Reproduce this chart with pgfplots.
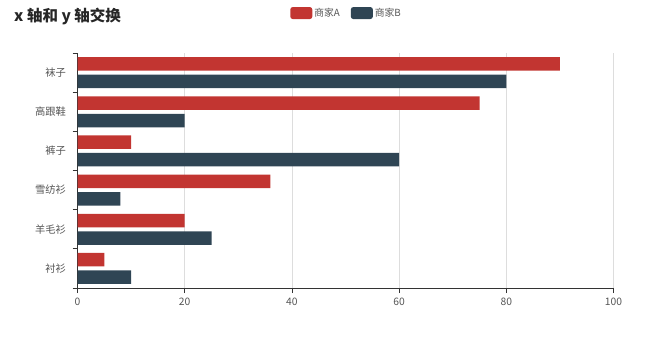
\documentclass[border=0pt]{standalone}
\usepackage{fontspec}
\setmainfont{Noto Sans CJK SC}
\usepackage{pgfplots}
\pgfplotsset{compat=1.18}
\definecolor{cA}{HTML}{C23531}
\definecolor{cB}{HTML}{2F4554}
\definecolor{axc}{HTML}{333333}
\definecolor{txc}{HTML}{555555}
\definecolor{gridc}{HTML}{DDDDDD}
\begin{document}
\begin{tikzpicture}
\useasboundingbox (0bp,0bp) rectangle (655bp,338bp);
\node[anchor=west, font=\fontsize{15.5bp}{18bp}\selectfont\bfseries, text=black!85, inner sep=0pt] at (14bp,322bp) {x 轴和 y 轴交换};
\begin{axis}[
  at={(77.5bp,50bp)}, anchor=south west,
  scale only axis, width=536bp, height=235bp,
  xbar, bar width=13.5bp,
  xmin=0, xmax=100, ymin=-0.5, ymax=5.5,
  axis x line*=bottom, axis y line*=left,
  axis line style={draw=axc, line width=0.8bp},
  xtick={0,20,...,100},
  tick align=outside, major tick length=5bp,
  xtick style={draw=axc, line width=0.8bp},
  xmajorgrids, grid style={draw=gridc, line width=0.8bp},
  ytick={0,...,5},
  yticklabels={衬衫,羊毛衫,雪纺衫,裤子,高跟鞋,袜子},
  ytick style={draw=none},
  extra y ticks={-0.5,0.5,...,5.5},
  extra y tick labels={},
  extra y tick style={ytick style={draw=axc, line width=0.8bp}, grid=none},
  ticklabel style={font=\fontsize{10.3bp}{12bp}\selectfont, text=txc},
  /pgf/number format/assume math mode=true,
  y tick label style={xshift=-3bp},
  x tick label style={yshift=-2bp},
  legend style={at={(0.502,1.17)}, anchor=center, draw=none, fill=none,
    legend columns=2, font=\fontsize{9.8bp}{11bp}\selectfont, text=txc,
    /tikz/every even column/.append style={column sep=9bp},
    inner sep=0pt},
  legend image code/.code={\fill[#1, rounded corners=2.5bp] (0bp,-6bp) rectangle (22bp,6bp);},
]
\addplot[fill=cA, draw=none, bar shift=8.75bp] coordinates {(5,0) (20,1) (36,2) (10,3) (75,4) (90,5)};
\addplot[fill=cB, draw=none, bar shift=-8.75bp] coordinates {(10,0) (25,1) (8,2) (60,3) (20,4) (80,5)};
\legend{商家A,商家B}
\end{axis}
\end{tikzpicture}
\end{document}
